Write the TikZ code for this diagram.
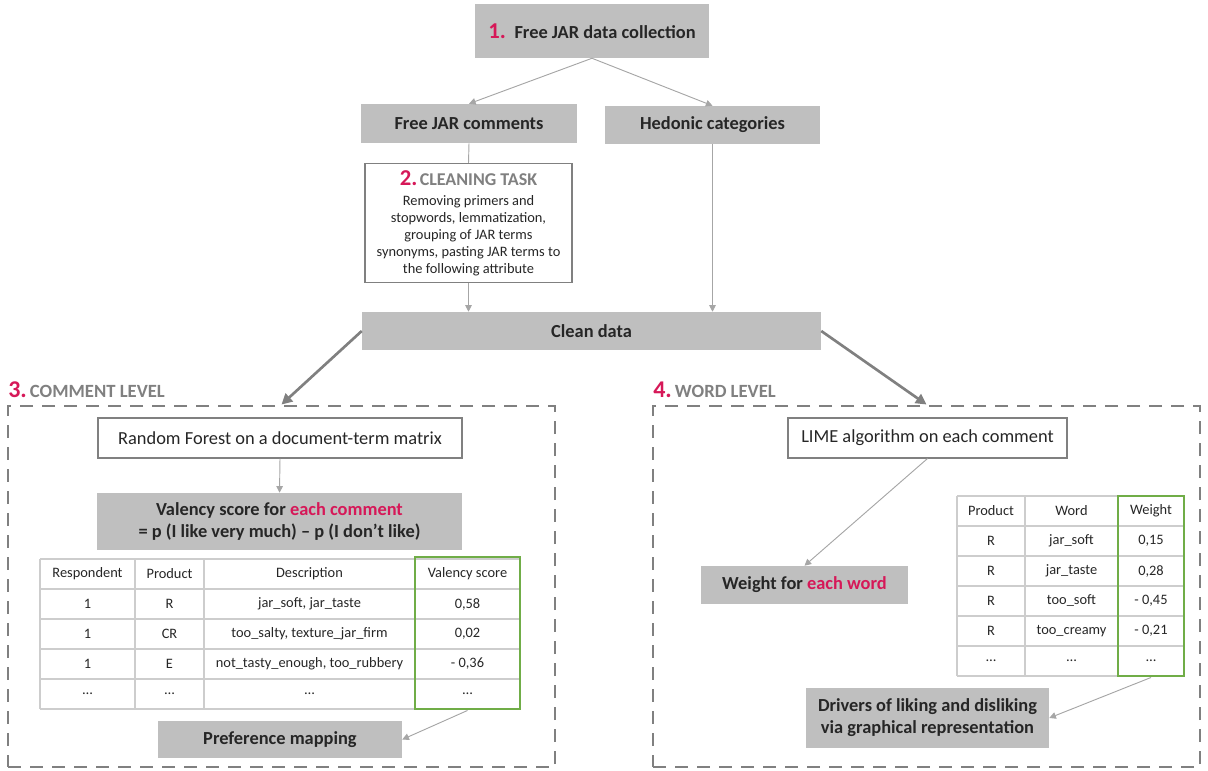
\documentclass[tikz,border=0pt]{standalone}
\usepackage{fontspec}
\setmainfont{Carlito}
\usetikzlibrary{arrows.meta}

\definecolor{boxgray}{RGB}{191,191,191}
\definecolor{jarpink}{RGB}{214,24,88}
\definecolor{midgray}{RGB}{128,128,128}
\definecolor{linegray}{RGB}{166,166,166}
\definecolor{cellgray}{RGB}{205,205,205}
\definecolor{jargreen}{RGB}{112,173,71}
\definecolor{txtgray}{RGB}{38,38,38}

\tikzset{
	graybox/.style={fill=boxgray, inner sep=0pt, align=center, text=txtgray,
		font=\fontsize{13.8}{16.5}\selectfont\bfseries},
	whitebox/.style={draw=midgray, fill=white, line width=0.8pt, inner sep=0pt, align=center,
		text=txtgray, font=\fontsize{13.8}{16}\selectfont},
	levelbox/.style={draw=midgray, line width=2.2pt, dash pattern=on 10pt off 6.5pt, inner sep=0pt},
	greenbox/.style={draw=jargreen, line width=2.2pt, inner sep=0pt},
	cell/.style={inner sep=0pt, text=txtgray, font=\fontsize{10.8}{12}\selectfont},
	thin arrow/.style={draw=linegray, line width=0.7pt, -{Triangle[length=5pt,width=5pt]}},
	thick arrow/.style={draw=midgray, line width=2pt, -{Triangle[length=8pt,width=8pt]}}
}

\begin{document}
\begin{tikzpicture}[x=0.75pt, y=-0.75pt]
	
	\useasboundingbox (0,0) rectangle (1208,771);
	
	%% TOP PART
	\node[graybox, minimum width=175.5pt, minimum height=40.5pt] (collect) at (592,31)
		{{\fontsize{17}{18}\selectfont\color{jarpink}1.}\, Free JAR data collection};
	\node[graybox, minimum width=162pt, minimum height=29.25pt] (comments) at (469,123.5) {Free JAR comments};
	\node[graybox, minimum width=161.25pt, minimum height=28.5pt] (hedonic) at (712.5,125) {Hedonic categories};
	
	% Cleaning task
	\node[whitebox, minimum width=155.25pt, minimum height=89.25pt, font=\fontsize{10.8}{12.75}\selectfont] (cleaning) at (468.5,223)
		{{\fontsize{17}{18}\selectfont\bfseries\color{jarpink}2.}\,{\fontsize{13.5}{15}\selectfont\bfseries\color{midgray}CLEANING TASK}\\[2pt]
		Removing primers and\\stopwords, lemmatization,\\grouping of JAR terms\\synonyms, pasting JAR terms to\\the following attribute};
	
	\node[graybox, minimum width=344.25pt, minimum height=28.5pt] (clean) at (591.5,331) {Clean data};
	
	% Connectors
	\draw[thin arrow] (collect.south) -- (comments.north);
	\draw[thin arrow] (collect.south) -- (hedonic.north);
	\draw[draw=linegray, line width=0.7pt] (comments.south) -- (cleaning.north);
	\draw[thin arrow] (cleaning.south) -- (cleaning.south |- clean.north);
	\draw[thin arrow] (hedonic.south) -- (hedonic.south |- clean.north);
	
	%% COMMENT LEVEL
	\node[levelbox, minimum width=410.25pt, minimum height=270.75pt] (cmtlevel) at (281.5,586.5) {};
	\node[anchor=base west, inner sep=0pt, text=midgray, font=\fontsize{14}{16}\selectfont\bfseries] (cmtlabel) at (8,397)
		{{\fontsize{18}{18}\selectfont\color{jarpink}3.}\,COMMENT LEVEL};
	
	\node[whitebox, minimum width=273pt, minimum height=30pt] (forest) at (280,438) {Random Forest on a document-term matrix};
	\node[graybox, minimum width=273.75pt, minimum height=42.75pt] (valency) at (279.5,521.5)
		{Valency score for {\color{jarpink}each comment}\\= p (I like very much) -- p (I don’t like)};
	\node[graybox, minimum width=183pt, minimum height=27.75pt] (prefmap) at (280,739.5) {Preference mapping};
	
	% Table of comments
	\foreach \y in {559, 589, 619, 649, 679, 709}
	{
		\draw[draw=cellgray, line width=1pt] (40,\y) -- (520,\y);
	}
	\foreach \x in {40, 135, 204, 415, 520}
	{
		\draw[draw=cellgray, line width=1pt] (\x,559) -- (\x,709);
	}
	\foreach \y/\a/\b/\c/\d in {574/Respondent/Product/Description/Valency score,
		604/1/R/{jar\_soft, jar\_taste}/{0,58},
		634/1/CR/{too\_salty, texture\_jar\_firm}/{0,02},
		664/1/E/{not\_tasty\_enough, too\_rubbery}/{- 0,36},
		694/…/…/…/…}
	{
		\node[cell] (ca\y) at (87.5,\y) {\a};
		\node[cell] (cb\y) at (169.5,\y) {\b};
		\node[cell] (cc\y) at (309.5,\y) {\c};
		\node[cell] (cd\y) at (467.5,\y) {\d};
	}
	\node[greenbox, minimum width=78.75pt, minimum height=114pt] (vscore) at (467.5,633) {};
	
	\draw[thin arrow] (forest.south) -- (valency.north);
	\draw[thin arrow] (vscore.south) -- (prefmap.east);
	
	%% WORD LEVEL
	\node[levelbox, minimum width=410.25pt, minimum height=270.75pt] (wrdlevel) at (926.5,586.5) {};
	\node[anchor=base west, inner sep=0pt, text=midgray, font=\fontsize{14}{16}\selectfont\bfseries] (wrdlabel) at (653,397)
		{{\fontsize{18}{18}\selectfont\color{jarpink}4.}\,WORD LEVEL};
	
	\node[whitebox, minimum width=209.25pt, minimum height=30pt] (lime) at (927.5,438) {LIME algorithm on each comment};
	\node[graybox, minimum width=155.25pt, minimum height=28.5pt] (weight) at (804.5,585)
		{Weight for {\color{jarpink}each word}};
	\node[graybox, minimum width=182.25pt, minimum height=45pt] (drivers) at (927.5,718)
		{Drivers of liking and disliking\\via graphical representation};
	
	% Table of words
	\foreach \y in {496, 526, 556, 586, 616, 646, 676}
	{
		\draw[draw=cellgray, line width=1pt] (957,\y) -- (1184,\y);
	}
	\foreach \x in {957, 1025, 1118, 1184}
	{
		\draw[draw=cellgray, line width=1pt] (\x,496) -- (\x,676);
	}
	\foreach \y/\a/\b/\c in {511/Product/Word/Weight,
		541/R/jar\_soft/{0,15},
		571/R/jar\_taste/{0,28},
		601/R/too\_soft/{- 0,45},
		631/R/too\_creamy/{- 0,21},
		661/…/…/…}
	{
		\node[cell] (wa\y) at (991,\y) {\a};
		\node[cell] (wb\y) at (1071.5,\y) {\b};
		\node[cell] (wc\y) at (1151,\y) {\c};
	}
	\node[greenbox, minimum width=49.5pt, minimum height=135pt] (wscore) at (1151,586) {};
	
	\draw[thin arrow] (lime.south) -- (weight.north);
	\draw[thin arrow] (wscore.south) -- (drivers.east);
	
	% Thick arrows to both levels
	\draw[thick arrow] (clean.west) -- (cmtlevel.north);
	\draw[thick arrow] (clean.east) -- (wrdlevel.north);
	
\end{tikzpicture}
\end{document}
